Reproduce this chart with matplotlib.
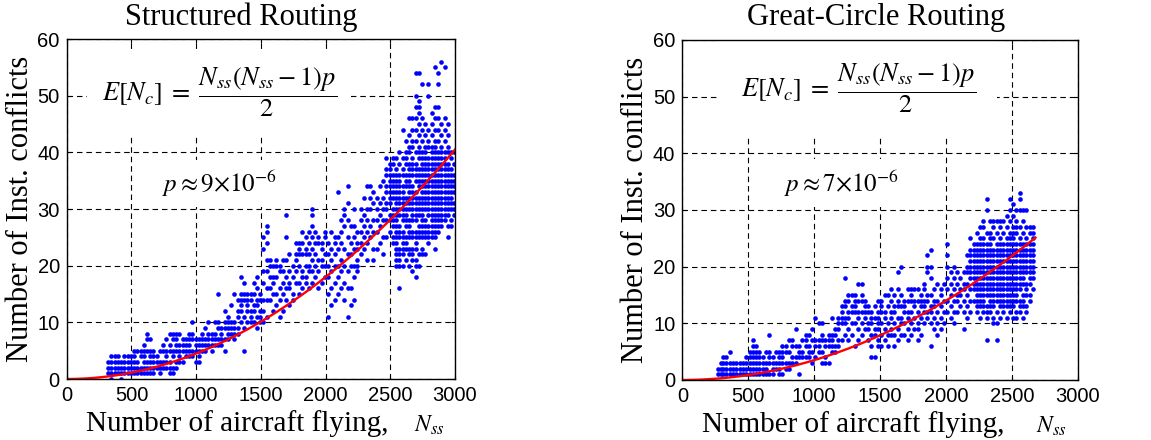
import numpy as np
import matplotlib.pyplot as plt

plt.rcParams['font.family'] = ['Liberation Serif', 'DejaVu Serif']
plt.rcParams['mathtext.fontset'] = 'stix'

# conflicts read per column of aircraft count (x: list of y)
struct_low = [
    (320, [1, 2, 3]), (345, [0, 1, 2, 3, 4]), (370, [1, 2, 3, 4]), (395, [1, 2, 3, 4]),
    (420, [0, 1, 2, 3]), (445, [1, 2, 3, 4]), (470, [1, 2, 3, 4]), (495, [1, 2, 3, 4]),
    (520, [1, 2, 3, 4, 5]), (545, [1, 2, 3, 5]), (570, [1, 2, 4, 5]), (595, [1, 2, 3, 4, 5, 6]),
    (620, [1, 2, 3, 5, 7, 8]), (645, [1, 2, 3, 4, 5, 7]), (670, [1, 2, 3, 4, 5]), (695, [2, 3, 4]),
    (720, [1, 2, 3, 5]), (745, [2, 3, 5, 6]), (770, [2, 3, 4, 5, 7]), (795, [1, 2, 3, 5, 6, 8]),
    (820, [1, 2, 4, 5, 7, 8]), (845, [2, 3, 5, 6, 7, 8]), (870, [3, 4, 5, 6, 8]), (895, [3, 5, 6, 7]),
    (920, [4, 5, 6, 7]), (945, [4, 5, 6, 7, 8]), (970, [4, 5, 7, 8, 10]), (995, [3, 5, 6, 7]),
    (1020, [3, 4, 5, 6, 7]), (1045, [5, 6, 7, 8]), (1070, [5, 6, 7, 9]), (1095, [6, 7, 8, 10]),
    (1120, [5, 6, 7, 8]), (1145, [6, 7, 8, 10]), (1170, [6, 7, 9, 10, 15]), (1195, [6, 7, 8, 9]),
]
struct_mid = [
    (1220, [5, 7, 9, 10, 12]), (1245, [7, 8, 9, 10, 11]), (1270, [8, 9, 10, 13]),
    (1295, [7, 8, 9, 10, 15]), (1320, [8, 9, 11, 12, 14]), (1345, [10, 12, 13, 14, 15, 18]),
    (1370, [5, 9, 11, 14, 15, 17]), (1395, [10, 12, 13, 14, 15]), (1420, [10, 11, 12, 14, 15]),
    (1445, [10, 12, 13, 15, 17]), (1470, [9, 11, 13, 14, 16, 18]), (1495, [10, 11, 12, 14, 15]),
    (1520, [10, 12, 14, 17, 19, 23, 25]), (1545, [11, 14, 16, 19, 21, 24, 26, 27]),
    (1570, [14, 16, 18, 20, 21]), (1595, [12, 15, 17, 18, 20]), (1620, [13, 15, 18, 20, 21]),
    (1645, [11, 14, 16, 19, 20]), (1670, [12, 15, 17, 19, 21]), (1695, [14, 16, 18, 21, 25, 29]),
    (1720, [13, 16, 17, 19, 22]), (1745, [14, 15, 18, 20]), (1770, [17, 19, 21, 22, 24]),
    (1795, [15, 17, 20, 22, 23, 24]), (1820, [16, 18, 19, 22, 24, 26]),
    (1845, [17, 18, 20, 22, 23, 25]), (1870, [16, 19, 20, 22, 24, 26]),
    (1895, [17, 19, 21, 23, 25, 27, 29, 30]), (1920, [18, 20, 22, 24, 26]),
    (1945, [16, 19, 21, 24, 25]), (1970, [17, 20, 21, 23, 24]), (1995, [18, 20, 22, 25, 26]),
    (2020, [11, 15, 18, 20, 22, 24]), (2045, [13, 16, 19, 21, 23, 26]),
    (2070, [14, 17, 20, 22, 24, 25]), (2095, [15, 18, 20, 23, 25, 33]),
    (2120, [16, 19, 21, 24, 26, 28]), (2145, [14, 17, 20, 23, 27, 29, 30]),
    (2170, [11, 16, 19, 22, 25, 28, 31, 34]), (2195, [13, 16, 20, 22, 24, 27]),
    (2220, [14, 18, 20, 23, 25, 27, 30]), (2245, [19, 20, 21, 23, 24, 26]),
    (2270, [22, 24, 26, 28, 30]), (2295, [23, 25, 27, 29, 32]), (2320, [21, 24, 26, 28, 30, 34]),
    (2345, [25, 27, 30, 32, 34]), (2370, [21, 23, 26, 28, 31, 33]), (2395, [23, 26, 28, 30, 32]),
    (2420, [24, 27, 29, 31, 34]), (2445, [22, 25, 28, 30, 32, 35]),
]
struct_high = [
    (2470, [25, 28, 30, 31, 33, 34, 36, 37, 39]),
    (2495, [26, 28, 29, 31, 32, 33, 34, 35, 36, 37, 38]),
    (2520, [24, 25, 27, 28, 29, 30, 32, 33, 34, 35, 36, 38, 39]),
    (2545, [20, 21, 22, 23, 24, 25, 26, 27, 28, 29, 30, 31, 32, 33, 34, 35, 36, 37, 39]),
    (2570, [16, 20, 21, 22, 23, 25, 26, 27, 29, 30, 31, 32, 33, 34, 35, 36, 38, 40]),
    (2595, [20, 22, 23, 24, 25, 26, 28, 29, 30, 31, 32, 33, 34, 36, 37, 39, 44]),
    (2620, [21, 23, 24, 25, 27, 28, 29, 30, 31, 32, 34, 35, 36, 38, 39, 40, 42]),
    (2645, [20, 22, 23, 25, 26, 27, 28, 30, 31, 32, 33, 34, 35, 36, 37, 38, 40, 41, 43, 46]),
    (2670, [19, 21, 22, 23, 25, 26, 28, 29, 30, 31, 32, 33, 34, 36, 37, 38, 39, 41, 42, 44, 46]),
    (2695, [18, 20, 21, 23, 24, 25, 26, 28, 29, 30, 31, 32, 33, 35, 36, 37, 38, 40, 42, 44, 46, 48, 50, 54]),
    (2720, [20, 22, 25, 26, 27, 29, 30, 31, 32, 34, 35, 36, 37, 39, 40, 41, 43, 45, 47, 48, 49, 54]),
    (2745, [22, 23, 25, 26, 27, 28, 29, 30, 31, 32, 33, 34, 35, 36, 37, 38, 39, 40, 42, 44, 46, 52]),
    (2770, [22, 25, 26, 27, 28, 30, 31, 32, 33, 34, 35, 36, 37, 38, 39, 40, 41, 43, 45]),
    (2795, [24, 25, 26, 27, 29, 30, 31, 32, 33, 34, 35, 36, 37, 38, 39, 41, 42, 44, 50, 52]),
    (2820, [25, 26, 27, 28, 29, 30, 31, 32, 33, 34, 35, 36, 37, 38, 39, 40, 41, 43, 45, 47]),
    (2845, [23, 25, 26, 27, 28, 29, 30, 31, 32, 33, 34, 35, 36, 37, 38, 39, 40, 41, 42, 44, 46, 48, 55]),
    (2870, [26, 27, 28, 29, 30, 31, 32, 33, 34, 35, 36, 37, 38, 39, 40, 42, 44, 46, 48, 52, 54]),
    (2895, [27, 28, 29, 30, 31, 32, 33, 34, 35, 36, 37, 38, 39, 40, 41, 43, 45, 56]),
    (2920, [28, 29, 30, 31, 32, 33, 34, 35, 36, 37, 38, 39, 40, 42, 44, 46, 55]),
    (2945, [25, 27, 29, 30, 31, 32, 33, 34, 35, 36, 37, 38, 40, 41, 43, 45]),
    (2970, [27, 28, 30, 31, 32, 33, 34, 35, 36, 37, 39, 40]),
    (2990, [29, 30, 31, 33, 34, 35, 36, 38, 40]),
]

gc_low = [
    (270, [1, 2]), (290, [1, 2, 3]), (310, [1, 2, 3, 4]), (335, [1, 2, 3, 4]), (360, [1, 2, 3, 5]),
    (385, [1, 2, 3]), (410, [1, 2, 3]), (435, [1, 2, 3]), (460, [1, 2, 3]), (485, [1, 2, 3, 4]),
    (510, [1, 2, 3, 4, 5]), (535, [1, 2, 3, 4, 5, 6, 7]), (560, [1, 2, 3, 4, 5, 6]),
    (585, [1, 2, 3, 4, 5]), (610, [1, 2, 3, 4]), (635, [1, 2, 3, 5]), (660, [1, 3, 4, 5, 8]),
    (685, [1, 2, 3, 4]), (710, [2, 3, 5]), (735, [1, 2, 3, 4, 5]), (760, [1, 3, 4, 5, 6]),
    (785, [2, 3, 5, 6]), (810, [2, 3, 5, 7]), (835, [3, 4, 6, 7]), (860, [3, 4, 6, 9]),
    (885, [1, 4, 5, 6]), (910, [4, 5, 7]), (935, [4, 6, 7, 8]), (960, [4, 5, 6, 8]),
    (985, [3, 5, 7, 9]), (1010, [4, 6, 7, 11]), (1035, [5, 6, 7, 10]), (1060, [3, 5, 7, 8, 10]),
    (1085, [3, 4, 6, 7]), (1110, [3, 6, 7, 8]), (1135, [5, 6, 7, 8, 11]), (1160, [5, 6, 8, 9]),
    (1185, [6, 7, 9, 10, 11]),
]
gc_mid = [
    (1210, [7, 10, 11, 12, 13]), (1235, [8, 10, 11, 13, 14, 18]), (1260, [7, 9, 11, 12, 14, 15]),
    (1285, [8, 10, 12, 13, 15]), (1310, [6, 10, 12, 13, 14, 15]), (1335, [7, 9, 11, 12, 14, 17]),
    (1360, [8, 10, 12, 14, 15, 17]), (1385, [9, 11, 12, 13, 14]), (1410, [7, 9, 10, 12, 13]),
    (1435, [4, 6, 8, 10, 11, 12]), (1460, [4, 8, 9, 11, 13]), (1485, [6, 7, 9, 10, 11, 12, 14]),
    (1510, [6, 8, 10, 12, 13, 14]), (1535, [7, 9, 11, 12, 15]), (1560, [6, 8, 10, 13, 15]),
    (1585, [8, 9, 11, 12, 14, 16]), (1610, [6, 8, 10, 12, 13, 15]), (1635, [7, 9, 11, 13, 14, 16, 19]),
    (1660, [8, 10, 11, 13, 15, 20]), (1685, [8, 10, 12, 13, 14]), (1710, [7, 9, 11, 12, 14, 16]),
    (1735, [8, 10, 12, 14, 15, 16]), (1760, [9, 11, 13, 14, 16]), (1785, [7, 9, 10, 12, 14, 16]),
    (1810, [8, 11, 13, 14, 15]), (1835, [10, 12, 13, 14, 16, 17]), (1860, [11, 12, 14, 15, 19, 20, 22]),
    (1885, [6, 10, 12, 13, 15, 18, 20, 23]), (1910, [9, 11, 13, 14, 16]), (1935, [8, 10, 12, 14, 17]),
    (1960, [9, 11, 13, 15, 16]), (1985, [10, 12, 14, 17]), (2010, [12, 14, 16, 18, 20, 22, 24]),
    (2035, [11, 13, 15, 17, 19]), (2060, [10, 12, 14, 16, 18, 20]), (2085, [12, 14, 15, 17, 19]),
    (2110, [13, 15, 16, 18]), (2135, [9, 12, 14, 16, 17, 19]), (2160, [11, 13, 15, 17, 19, 20, 22]),
]
gc_high = [
    (2185, [12, 14, 16, 18, 19, 20, 21, 22, 23, 25]),
    (2210, [14, 16, 17, 18, 19, 20, 21, 22, 23, 24]),
    (2235, [12, 13, 14, 15, 16, 17, 18, 19, 20, 21, 22, 23, 24, 26]),
    (2260, [11, 13, 14, 15, 16, 17, 18, 19, 20, 21, 22, 23, 24, 25, 27]),
    (2285, [12, 13, 14, 15, 16, 17, 18, 19, 20, 21, 22, 23, 24, 25, 27, 28]),
    (2310, [7, 11, 12, 13, 15, 16, 17, 18, 19, 20, 21, 22, 23, 24, 26, 30, 32]),
    (2335, [12, 13, 14, 15, 16, 17, 18, 19, 20, 21, 22, 23, 24, 25, 26, 28]),
    (2360, [10, 11, 13, 14, 15, 16, 17, 18, 19, 20, 21, 22, 23, 25, 27, 28]),
    (2385, [7, 10, 12, 14, 15, 16, 17, 18, 19, 20, 21, 22, 23, 24, 26, 28]),
    (2410, [11, 13, 14, 15, 16, 17, 18, 19, 20, 21, 22, 23, 24, 25, 27, 28]),
    (2435, [12, 13, 14, 15, 16, 17, 18, 19, 20, 21, 22, 23, 24, 26, 28]),
    (2460, [11, 13, 14, 15, 16, 17, 18, 19, 20, 21, 22, 23, 24, 25, 27, 29]),
    (2485, [12, 13, 14, 15, 16, 17, 18, 19, 20, 21, 22, 23, 24, 25, 26, 28, 30, 32]),
    (2510, [11, 13, 14, 15, 16, 17, 18, 19, 20, 21, 22, 23, 24, 25, 26, 27, 29, 31]),
    (2535, [11, 12, 14, 15, 16, 17, 18, 19, 20, 21, 22, 23, 24, 26, 27, 28, 30]),
    (2560, [12, 13, 14, 16, 17, 18, 19, 20, 21, 22, 23, 24, 25, 27, 30, 32, 33]),
    (2585, [11, 13, 14, 15, 17, 18, 19, 20, 21, 22, 23, 24, 26, 28, 30]),
    (2610, [12, 13, 15, 16, 17, 19, 20, 21, 22, 23, 24, 25, 27, 30]),
    (2635, [14, 15, 17, 18, 19, 20, 21, 22, 23, 24, 26, 27]),
    (2660, [16, 18, 19, 20, 21, 22, 23, 24, 25, 26, 27]),
]

# fitted p and range of the red curves
p_struct, n_max_struct = 9e-6, 3000
p_gc, n_max_gc = 7e-6, 2680

titles = ['Structured Routing', 'Great-Circle Routing']
p_labels = [r'$p\approx 9{\times}10^{-6}$', r'$p\approx 7{\times}10^{-6}$']


def flatten(*groups):
    xs, ys = [], []
    for g in groups:
        for x, col in g:
            xs += [x] * len(col)
            ys += col
    return np.array(xs), np.array(ys)


fig = plt.figure(figsize=(11.51, 4.40), dpi=100)
axes = [fig.add_axes([0.058, 0.1386, 0.3373, 0.7727]),
        fig.add_axes([0.5928, 0.1364, 0.3435, 0.7727])]

panels = [
    (flatten(struct_low, struct_mid, struct_high), p_struct, n_max_struct,
     (270, 50.5), (734, 34.5), 0.449, 0.55),
    (flatten(gc_low, gc_mid, gc_high), p_gc, n_max_gc,
     (445, 51.5), (772, 34.7), 0.49, 0.8),
]

for ax, title, plab, (data, p, nmax, fpos, ppos, tx, fpad) in zip(axes, titles, p_labels, panels):
    xs, ys = data
    ax.scatter(xs, ys, s=11, color='#0000ff', linewidths=0, zorder=3)
    n = np.linspace(0, nmax, 300)
    ax.plot(n, n * (n - 1) * p / 2, color='red', lw=1.7, zorder=4)

    ax.set_xlim(0, 3000)
    ax.set_ylim(0, 60)
    ax.set_xticks(range(0, 3001, 500))
    ax.set_yticks(range(0, 61, 10))
    ax.grid(True, color='black', lw=0.8, linestyle=(0, (5, 3.5)), zorder=1)
    ax.set_axisbelow(True)
    ax.tick_params(direction='in', length=3, top=True, right=True, pad=5)
    for lab in ax.get_xticklabels() + ax.get_yticklabels():
        lab.set_fontfamily('Liberation Sans')
        lab.set_fontsize(14.5)
    for sp in ax.spines.values():
        sp.set_linewidth(1.0)
        sp.set_zorder(6)

    ax.text(tx, 1.065, title, transform=ax.transAxes, ha='center', va='center', fontsize=22)
    ax.set_ylabel('Number of Inst. conflicts', fontsize=22, labelpad=2)
    ax.text(0.05, -0.13, 'Number of aircraft flying,', transform=ax.transAxes,
            ha='left', va='center', fontsize=21)
    ax.text(0.895, -0.135, r'$N_{ss}$', transform=ax.transAxes,
            ha='left', va='center', fontsize=17)

    ax.text(fpos[0], fpos[1], r'$E[N_c]\;=\;\dfrac{N_{ss}(N_{ss}-1)p}{2}$',
            ha='left', va='center', fontsize=19, zorder=5,
            bbox=dict(boxstyle='square,pad=%g' % fpad, fc='white', ec='none'))
    ax.text(ppos[0], ppos[1], plab, ha='left', va='center', fontsize=18, zorder=5,
            bbox=dict(boxstyle='square,pad=0.35', fc='white', ec='none'))

fig.savefig('out.png', dpi=100)
